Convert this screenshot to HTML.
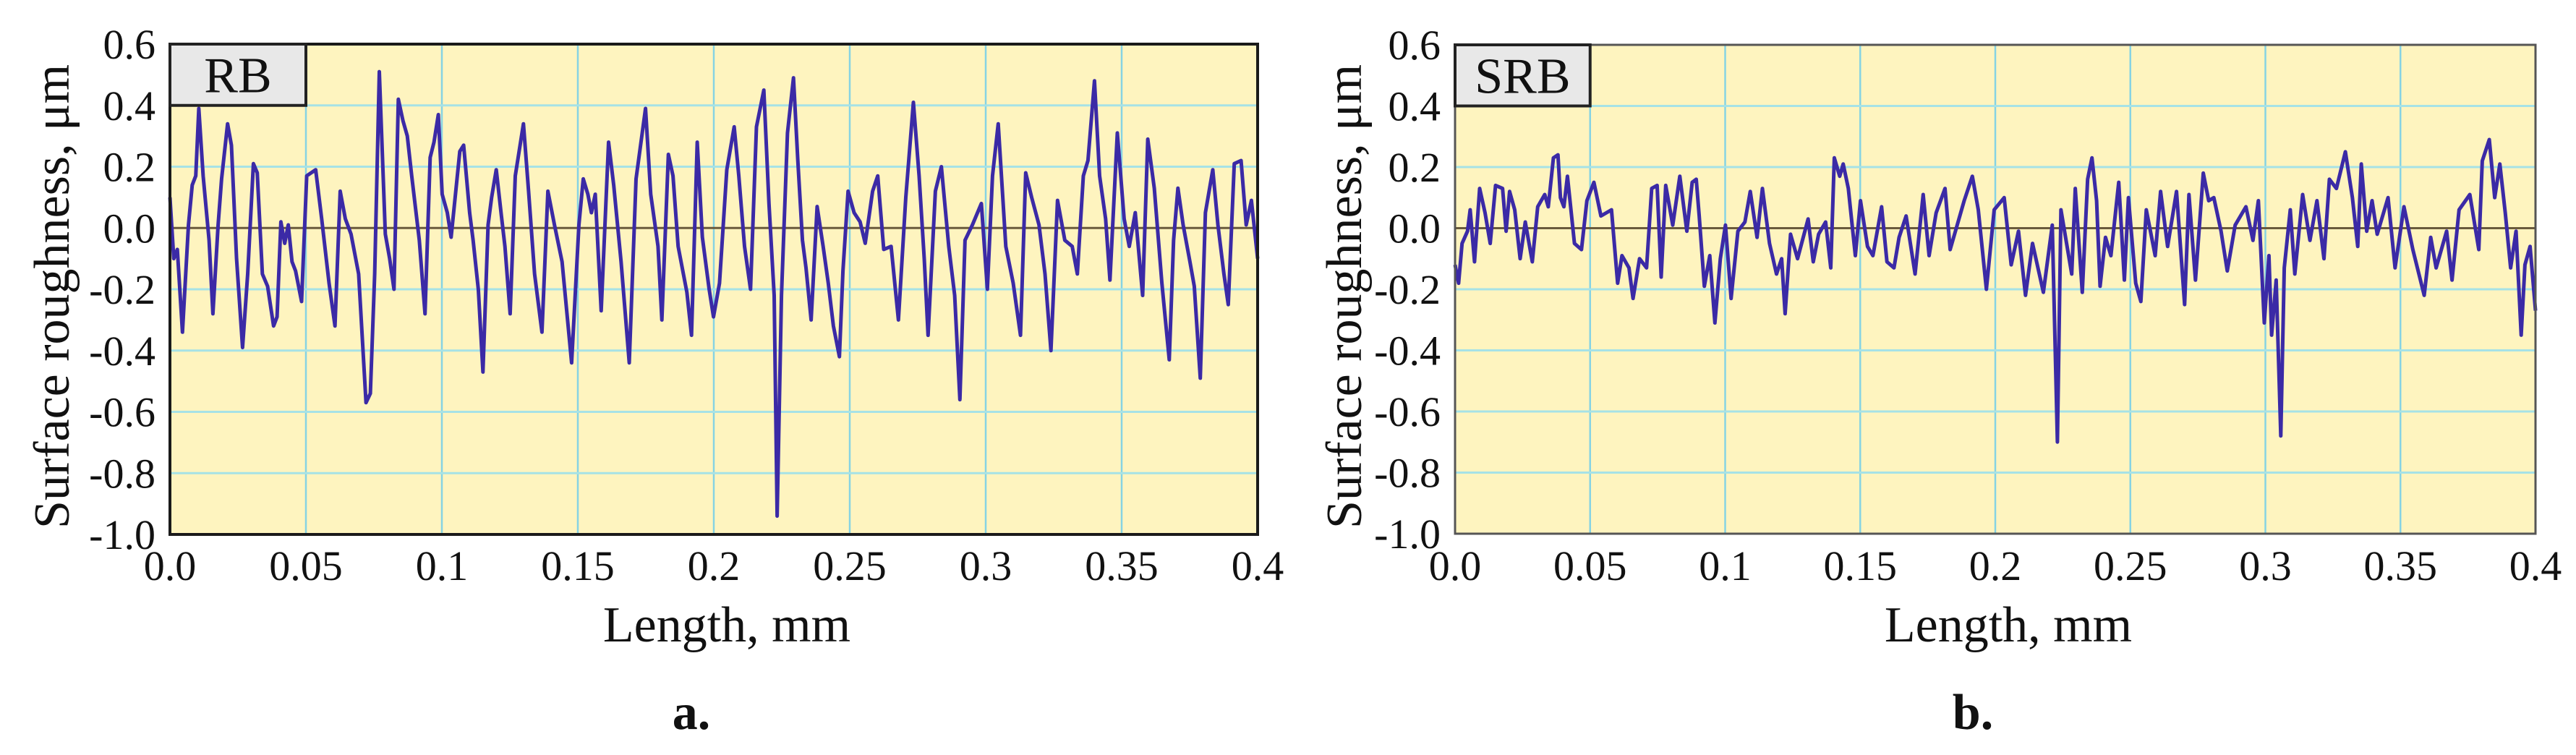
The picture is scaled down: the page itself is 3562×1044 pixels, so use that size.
<!DOCTYPE html>
<html><head><meta charset="utf-8"><style>
html,body{margin:0;padding:0;background:#fff;}
svg{display:block;font-family:"Liberation Serif",serif;}
</style></head><body>
<svg id="fig" width="3562" height="1044" viewBox="0 0 3562 1044" xmlns="http://www.w3.org/2000/svg"></svg>
<script>
const yTicks = [0.6,0.4,0.2,0.0,-0.2,-0.4,-0.6,-0.8,-1.0];
const yTickLabels = ["0.6","0.4","0.2","0.0","-0.2","-0.4","-0.6","-0.8","-1.0"];
const xTicks = [0,0.05,0.1,0.15,0.2,0.25,0.3,0.35,0.4];
const xTickLabels = ["0.0","0.05","0.1","0.15","0.2","0.25","0.3","0.35","0.4"];

const lengthA = [0,0.0014,0.0027,0.0046,0.0068,0.0082,0.0095,0.0106,0.0122,0.0144,0.0158,0.0177,0.0190,0.0212,0.0226,0.0245,0.0267,0.0286,0.0307,0.0321,0.0340,0.0359,0.0381,0.0394,0.0408,0.0422,0.0435,0.0449,0.0462,0.0484,0.0503,0.0536,0.0558,0.0585,0.0607,0.0626,0.0645,0.0666,0.0694,0.0721,0.0737,0.0753,0.0770,0.0792,0.0808,0.0824,0.0840,0.0857,0.0873,0.0889,0.0917,0.0938,0.0957,0.0971,0.0987,0.1001,0.1020,0.1034,0.1066,0.1080,0.1102,0.1115,0.1134,0.1151,0.1170,0.1183,0.1200,0.1219,0.1232,0.1251,0.1270,0.1300,0.1319,0.1341,0.1368,0.1390,0.1414,0.1442,0.1477,0.1504,0.1520,0.1537,0.1550,0.1564,0.1586,0.1613,0.1632,0.1659,0.1689,0.1714,0.1749,0.1768,0.1795,0.1809,0.1833,0.1850,0.1869,0.1901,0.1918,0.1939,0.1958,0.1983,0.1999,0.2021,0.2048,0.2075,0.2092,0.2113,0.2135,0.2157,0.2184,0.2203,0.2222,0.2233,0.2249,0.2271,0.2293,0.2309,0.2326,0.2339,0.2358,0.2380,0.2402,0.2421,0.2440,0.2462,0.2475,0.2494,0.2516,0.2538,0.2557,0.2584,0.2603,0.2625,0.2652,0.2679,0.2706,0.2734,0.2755,0.2774,0.2788,0.2815,0.2837,0.2864,0.2886,0.2905,0.2924,0.2951,0.2984,0.3006,0.3025,0.3046,0.3074,0.3101,0.3128,0.3147,0.3169,0.3196,0.3218,0.3240,0.3264,0.3291,0.3318,0.3337,0.3359,0.3376,0.3400,0.3419,0.3441,0.3457,0.3484,0.3509,0.3528,0.3550,0.3577,0.3596,0.3620,0.3648,0.3675,0.3691,0.3707,0.3726,0.3751,0.3767,0.3789,0.3808,0.3835,0.3854,0.3876,0.3892,0.3914,0.3939,0.3958,0.3977,0.4];
const roughnessA = [0.10,-0.10,-0.07,-0.34,0.01,0.14,0.17,0.39,0.17,-0.04,-0.28,0.01,0.16,0.34,0.27,-0.10,-0.39,-0.15,0.21,0.18,-0.15,-0.19,-0.32,-0.29,0.02,-0.05,0.01,-0.11,-0.14,-0.24,0.17,0.19,0.03,-0.18,-0.32,0.12,0.03,-0.02,-0.15,-0.57,-0.54,-0.15,0.51,-0.02,-0.10,-0.20,0.42,0.35,0.30,0.17,-0.04,-0.28,0.23,0.28,0.37,0.11,0.05,-0.03,0.25,0.27,0.05,-0.04,-0.20,-0.47,0.01,0.10,0.19,0.04,-0.06,-0.28,0.17,0.34,0.12,-0.15,-0.34,0.12,0.01,-0.11,-0.44,0.01,0.16,0.11,0.05,0.11,-0.27,0.28,0.14,-0.11,-0.44,0.16,0.39,0.11,-0.06,-0.30,0.24,0.17,-0.06,-0.21,-0.35,0.28,-0.03,-0.20,-0.29,-0.18,0.19,0.33,0.17,-0.06,-0.20,0.33,0.45,0.08,-0.22,-0.94,-0.22,0.31,0.49,0.22,-0.04,-0.13,-0.30,0.07,-0.06,-0.18,-0.32,-0.42,-0.14,0.12,0.05,0.02,-0.05,0.12,0.17,-0.07,-0.06,-0.30,0.10,0.41,0.17,-0.10,-0.35,0.12,0.20,-0.06,-0.22,-0.56,-0.04,0.01,0.08,-0.20,0.17,0.34,-0.06,-0.18,-0.35,0.18,0.10,0.01,-0.15,-0.40,0.09,-0.04,-0.06,-0.15,0.17,0.22,0.48,0.17,0.03,-0.17,0.31,0.03,-0.06,0.05,-0.22,0.29,0.13,-0.18,-0.43,-0.04,0.13,0.01,-0.11,-0.19,-0.49,0.05,0.19,0.01,-0.15,-0.25,0.21,0.22,0.01,0.09,-0.10];

const lengthB = [0,0.0013,0.0026,0.0046,0.0056,0.0072,0.0091,0.0111,0.013,0.015,0.0176,0.0189,0.0202,0.0221,0.0241,0.026,0.0286,0.0306,0.0332,0.0345,0.0364,0.0381,0.039,0.0403,0.0416,0.0442,0.0468,0.0488,0.0514,0.054,0.0579,0.0602,0.0618,0.0644,0.0659,0.0683,0.0709,0.0728,0.0748,0.0763,0.078,0.0806,0.0832,0.0858,0.0878,0.0893,0.0904,0.0923,0.0943,0.0962,0.0982,0.1001,0.1022,0.1047,0.1073,0.1093,0.1118,0.1138,0.1164,0.119,0.1209,0.1222,0.1242,0.1268,0.1307,0.1326,0.1346,0.1372,0.1391,0.1404,0.1424,0.1437,0.1456,0.1482,0.1501,0.1527,0.1547,0.1579,0.1599,0.1625,0.1644,0.167,0.1703,0.1733,0.1755,0.1781,0.1814,0.1833,0.1859,0.1885,0.1915,0.1937,0.1967,0.1996,
0.2033,0.2059,0.2086,0.2112,0.2138,0.2178,0.2211,0.2230,0.2243,0.2283,0.2296,0.2322,0.2342,0.2358,0.2375,0.2388,0.2408,0.2428,0.2457,0.2478,0.2493,0.2520,0.2539,0.2559,0.2592,0.2612,0.2638,0.2671,0.2701,0.2717,0.2741,0.2770,0.2790,0.2809,0.2836,0.2859,0.2888,0.2928,0.2954,0.2974,0.2996,0.3013,0.3023,0.3040,0.3057,0.3070,0.3092,0.3109,0.3138,0.3165,0.3191,0.3217,0.3237,0.3263,0.3296,0.3322,0.3342,0.3355,0.3375,0.3395,0.3414,0.3454,0.3480,0.3513,0.3546,0.3588,0.3612,0.3632,0.3671,0.3691,0.3717,0.3757,0.3790,0.3803,0.3829,0.3849,0.3868,0.3888,0.3908,0.3928,0.3947,0.3961,0.3980,0.4];
const roughnessB = [-0.12,-0.18,-0.05,-0.01,0.06,-0.11,0.13,0.05,-0.05,0.14,0.13,-0.01,0.12,0.06,-0.10,0.02,-0.11,0.07,0.11,0.07,0.23,0.24,0.10,0.07,0.17,-0.05,-0.07,0.09,0.15,0.04,0.06,-0.18,-0.09,-0.13,-0.23,-0.10,-0.13,0.13,0.14,-0.16,0.14,0.01,0.17,-0.01,0.15,0.16,0.04,-0.19,-0.09,-0.31,-0.10,0.01,-0.23,-0.01,0.02,0.12,-0.03,0.13,-0.05,-0.15,-0.10,-0.28,-0.02,-0.10,0.03,-0.11,-0.02,0.02,-0.13,0.23,0.17,0.21,0.13,-0.09,0.09,-0.06,-0.09,0.07,-0.11,-0.13,-0.03,0.04,-0.15,0.11,-0.09,0.05,0.13,-0.07,0.01,0.09,0.17,0.06,-0.20,0.06,
0.10,-0.12,-0.01,-0.22,-0.05,-0.21,0.01,-0.70,0.06,-0.15,0.13,-0.21,0.16,0.23,0.09,-0.19,-0.03,-0.09,0.15,-0.17,0.10,-0.18,-0.24,0.06,-0.09,0.12,-0.06,0.12,-0.25,0.11,-0.17,0.18,0.09,0.10,-0.01,-0.14,0.01,0.07,-0.04,0.09,-0.31,-0.09,-0.35,-0.17,-0.68,-0.13,0.06,-0.15,0.11,-0.04,0.09,-0.10,0.16,0.13,0.25,0.10,-0.06,0.21,-0.01,0.09,-0.02,0.10,-0.13,0.07,-0.07,-0.22,-0.03,-0.13,-0.01,-0.17,0.06,0.11,-0.07,0.22,0.29,0.10,0.21,0.05,-0.13,-0.01,-0.35,-0.12,-0.06,-0.27];

const NS = "http://www.w3.org/2000/svg";
const svg = document.getElementById('fig');
function el(tag, attrs, parent){
  const e = document.createElementNS(NS, tag);
  for (const k in attrs) e.setAttribute(k, attrs[k]);
  (parent||svg).appendChild(e);
  return e;
}

function drawPanel(id, L, R, T, B, legendText, xs, ys, frameColor, frameW, yTitleX, letter){
  const g = el('g', {});
  
  
  const xScale = v => L + (v - 0) / 0.4 * (R - L);
  const yScale = v => T + (0.6 - v) / 1.6 * (B - T);

  const bg = el('rect', {x:L, y:T, width:R-L, height:B-T, fill:'#fef4bf'}, g);
  
  

  xTicks.forEach((t, i) => {
    const x = xScale(t);
    const gl = el('line', {x1:x, x2:x, y1:T, y2:B, stroke:'#86d3e3', 'stroke-width':2.5}, g);
    
    
    const tx = el('text', {x:x, y:802, 'font-size':58, 'text-anchor':'middle', fill:'#111'}, g);
    tx.textContent = xTickLabels[i];
    
    
  });
  yTicks.forEach((t, i) => {
    const y = yScale(t);
    const gl = el('line', {x1:L, x2:R, y1:y, y2:y, stroke: t === 0 ? '#6a5a3c' : '#a6e2e6', 'stroke-width':3}, g);
    
    
    const tx = el('text', {x:L-20, y:y+20, 'font-size':58, 'text-anchor':'end', fill:'#111'}, g);
    tx.textContent = yTickLabels[i];
    
    
  });

  let d = '';
  xs.forEach((v, i) => { d += (i ? 'L' : 'M') + xScale(v).toFixed(1) + ' ' + yScale(ys[i]).toFixed(1); });
  const line = el('path', {d:d, fill:'none', stroke:'#3b2aa6', 'stroke-width':5, 'stroke-linejoin':'round'}, g);
  
  

  const frame = el('rect', {x:L, y:T, width:R-L, height:B-T, fill:'none', stroke:frameColor, 'stroke-width':frameW}, g);
  
  

  const lx2 = xScale(0.05), ly2 = yScale(0.4);
  const lg = el('rect', {x:L, y:T, width:lx2-L, height:ly2-T, fill:'#e8e8e8', stroke:'#222', 'stroke-width':4}, g);
  
  
  const lt = el('text', {x:(L+lx2)/2, y:T+(ly2-T)/2+24, 'font-size':70, 'text-anchor':'middle', fill:'#111'}, g);
  lt.textContent = legendText;
  
  

  const yt = el('text', {x:0, y:0, 'font-size':70, 'text-anchor':'middle', fill:'#111', transform:'translate(' + yTitleX + ',' + 410 + ') rotate(-90)'}, g);
  yt.textContent = 'Surface roughness, \u03bcm';
  
  

  const xt = el('text', {x:(L+R)/2+18, y:887, 'font-size':70, 'text-anchor':'middle', fill:'#111'}, g);
  xt.textContent = 'Length, mm';
  
  

  const pl = el('text', {x:(L+R)/2-31, y:1008, 'font-size':70, 'font-weight':'bold', 'text-anchor':'middle', fill:'#111'}, g);
  pl.textContent = letter;
  
  
}

drawPanel('panel-a', 235, 1739, 61, 739, 'RB', lengthA, roughnessA, '#1a1a1a', 4, 95, 'a.');
drawPanel('panel-b', 2012, 3506, 62, 738, 'SRB', lengthB, roughnessB, '#555', 3, 1882, 'b.');
</script>
</body></html>
